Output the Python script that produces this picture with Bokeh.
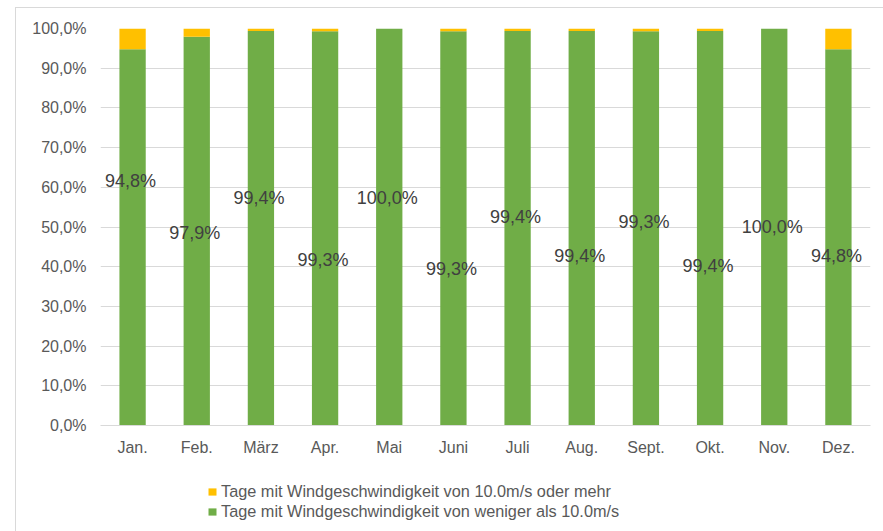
from bokeh.plotting import figure
from bokeh.layouts import column
from bokeh.models import ColumnDataSource, Legend, LegendItem, FixedTicker, LabelSet
from bokeh.core.properties import value
from bokeh.embed import file_html
from bokeh.resources import INLINE

months = ["Jan.", "Feb.", "März", "Apr.", "Mai", "Juni", "Juli", "Aug.", "Sept.", "Okt.", "Nov.", "Dez."]
below_10 = [94.8, 97.9, 99.4, 99.3, 100.0, 99.3, 99.4, 99.4, 99.3, 99.4, 100.0, 94.8]
above_10 = [5.2, 2.1, 0.6, 0.7, 0.0, 0.7, 0.6, 0.6, 0.7, 0.6, 0.0, 5.2]
label_pos = [61.7, 48.4, 57.4, 41.8, 57.4, 39.3, 52.6, 42.6, 51.2, 40.1, 49.9, 42.6]
label_text = ["94,8%", "97,9%", "99,4%", "99,3%", "100,0%", "99,3%", "99,4%", "99,4%", "99,3%", "99,4%", "100,0%", "94,8%"]
y_ticks = [0, 10, 20, 30, 40, 50, 60, 70, 80, 90, 100]
series_names = ["Tage mit Windgeschwindigkeit von 10.0m/s oder mehr",
                "Tage mit Windgeschwindigkeit von weniger als 10.0m/s"]

GREEN = "#70AD47"
YELLOW = "#FFC000"
FONT = "Liberation Sans"
BORDER = "#D9D9D9"

src = ColumnDataSource(dict(
    m=months, below=below_10, above=above_10, lab=label_text, ly=label_pos,
    top_above=[b + a for b, a in zip(below_10, above_10)],
))

p = figure(x_range=months, y_range=(0, 100), width=867, height=457,
           output_backend="svg", toolbar_location=None,
           min_border_left=84, min_border_right=13, min_border_top=20, min_border_bottom=40)
p.outline_line_color = None

g = p.vbar(x="m", bottom=0, top="below", width=0.41, color=GREEN, source=src, line_color=None)
y = p.vbar(x="m", bottom="below", top="top_above", width=0.41, color=YELLOW, source=src, line_color=None)

labels = LabelSet(x="m", y="ly", text="lab", source=src, text_align="center", text_baseline="middle",
                  text_font=value(FONT), text_font_size="18px", text_color="#404040", x_offset=-2)
p.add_layout(labels)

p.yaxis.ticker = FixedTicker(ticks=y_ticks)
p.yaxis.major_label_overrides = {t: f"{t},0%" for t in y_ticks}
p.yaxis.axis_line_color = None
p.yaxis.major_tick_line_color = None
p.yaxis.minor_tick_line_color = None
p.yaxis.major_label_text_font = FONT
p.yaxis.major_label_text_font_size = "16px"
p.yaxis.major_label_text_color = "#595959"
p.yaxis.major_label_standoff = 8

p.xaxis.axis_line_color = BORDER
p.xaxis.major_tick_line_color = None
p.xaxis.minor_tick_line_color = None
p.xaxis.major_label_text_font = FONT
p.xaxis.major_label_text_font_size = "16px"
p.xaxis.major_label_text_color = "#595959"
p.xaxis.major_label_standoff = 7

p.xgrid.grid_line_color = None
p.ygrid.grid_line_color = BORDER
p.ygrid.ticker = FixedTicker(ticks=y_ticks)

# legend panel below the chart (proxy bars lie outside its visible range);
# the column aligns its frame with the chart's frame
lg = figure(width=867, height=66, x_range=(0, 1), y_range=(0, 1),
            x_axis_location=None, y_axis_location=None,
            output_backend="svg", toolbar_location=None,
            min_border_left=84, min_border_right=13, min_border_top=0, min_border_bottom=0)
lg.grid.grid_line_color = None
lg.outline_line_color = None
r_above = lg.vbar(x=[-5], bottom=[-6], top=[-5], width=1, color=YELLOW, line_color=None)
r_below = lg.vbar(x=[-5], bottom=[-6], top=[-5], width=1, color=GREEN, line_color=None)

legend = Legend(items=[LegendItem(label=series_names[0], renderers=[r_above]),
                       LegendItem(label=series_names[1], renderers=[r_below])],
                location=(107, 10), orientation="vertical",
                label_text_font=FONT, label_text_font_size="16.3px", label_text_color="#595959",
                glyph_width=10, glyph_height=9, label_standoff=4, spacing=1, padding=0,
                margin=0, border_line_color=None, background_fill_alpha=0, label_height=17)
lg.add_layout(legend, "center")

layout = column(p, lg, spacing=0, margin=(7, 0, 0, 15),
                styles={"border-top": f"1px solid {BORDER}", "border-left": f"1px solid {BORDER}"})

open("out.html", "w").write(file_html(layout, INLINE))
